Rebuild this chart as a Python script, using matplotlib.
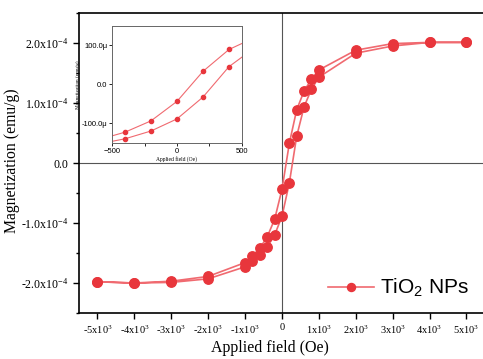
import matplotlib
matplotlib.use('Agg')
import matplotlib.pyplot as plt
from matplotlib.ticker import FixedLocator, FixedFormatter, MultipleLocator

plt.rcParams['font.family'] = 'Liberation Serif'
plt.rcParams['mathtext.fontset'] = 'custom'
plt.rcParams['mathtext.rm'] = 'Liberation Serif'
plt.rcParams['mathtext.sf'] = 'Liberation Sans'
plt.rcParams['mathtext.default'] = 'regular'

# descending branch (upper curve), field in Oe, magnetization in emu/g
h_down = [5000, 4000, 3000, 2000, 1000, 800, 600, 400, 200, 0,
          -200, -400, -600, -800, -1000, -2000, -3000, -4000, -5000]
m_down = [2.01e-4, 2.01e-4, 1.99e-4, 1.88e-4, 1.55e-4, 1.40e-4, 1.20e-4, 0.89e-4, 0.33e-4, -0.44e-4,
          -0.94e-4, -1.23e-4, -1.42e-4, -1.55e-4, -1.66e-4, -1.89e-4, -1.97e-4, -2.00e-4, -1.98e-4]
# ascending branch (lower curve)
h_up = [-5000, -4000, -3000, -2000, -1000, -800, -600, -400, -200, 0,
        200, 400, 600, 800, 1000, 2000, 3000, 4000, 5000]
m_up = [-1.98e-4, -2.00e-4, -1.99e-4, -1.93e-4, -1.73e-4, -1.63e-4, -1.53e-4, -1.40e-4, -1.20e-4, -0.89e-4,
        -0.33e-4, 0.45e-4, 0.94e-4, 1.23e-4, 1.43e-4, 1.83e-4, 1.95e-4, 2.01e-4, 2.01e-4]

h_all = h_down + h_up
m_all = m_down + m_up

x_ticks = [-5000, -4000, -3000, -2000, -1000, 0, 1000, 2000, 3000, 4000, 5000]
x_labels = ['-5x10$^3$', '-4x10$^3$', '-3x10$^3$', '-2x10$^3$', '-1x10$^3$', '0',
            '1x10$^3$', '2x10$^3$', '3x10$^3$', '4x10$^3$', '5x10$^3$']
y_ticks = [-2e-4, -1e-4, 0, 1e-4, 2e-4]
y_labels = ['-2.0x10$^{-4}$', '-1.0x10$^{-4}$', '0.0', '1.0x10$^{-4}$', '2.0x10$^{-4}$']

inset_y_ticks = [-100, 0, 100]
inset_y_labels = ['-100.0\u03bc', '0.0', '100.0\u03bc']

marker_col = '#e8363c'
line_col = '#f06a70'

fig = plt.figure(figsize=(4.83, 3.59), dpi=100)
ax = fig.add_axes([0.1636, 0.1281, 0.8404, 0.8357])

ax.plot(h_all, m_all, color=line_col, linewidth=1.2, marker='o', markersize=6.8,
        markerfacecolor=marker_col, markeredgecolor=marker_col, label=r'TiO$_\mathsf{2}$ NPs', zorder=3)
ax.axhline(0, color='#555555', linewidth=0.8, zorder=1)
ax.axvline(0, color='#555555', linewidth=0.8, zorder=1)

ax.set_xlim(-5500, 5500)
ax.set_ylim(-2.5e-4, 2.5e-4)
ax.xaxis.set_major_locator(FixedLocator(x_ticks))
ax.xaxis.set_major_formatter(FixedFormatter(x_labels))
ax.yaxis.set_major_locator(FixedLocator(y_ticks))
ax.yaxis.set_major_formatter(FixedFormatter(y_labels))
ax.yaxis.set_minor_locator(MultipleLocator(0.5e-4))
ax.tick_params(axis='x', which='major', direction='out', length=4.5, width=1, labelsize=7.5, pad=3)
ax.tick_params(axis='y', which='major', direction='out', length=4.5, width=1, labelsize=8.6, pad=3)
ax.tick_params(axis='y', which='minor', direction='out', length=2.5, width=1)
for s in ax.spines.values():
    s.set_linewidth(1.2)
ax.set_xlabel('Applied field (Oe)', fontsize=11.5)
ax.set_ylabel('Magnetization (emu/g)', fontsize=11.3)
ax.xaxis.set_label_coords(0.47, -0.09)
ax.yaxis.set_label_coords(-0.145, 0.507)

leg = ax.legend(loc='center left', bbox_to_anchor=(0.613, 0.083), frameon=False,
                prop={'family': 'Liberation Sans', 'size': 15}, borderpad=0, borderaxespad=0,
                handlelength=2.2, handletextpad=0.3, markerscale=0.85)

# inset: zoom on the coercive region, in micro emu/g
ins = fig.add_axes([0.2319, 0.6025, 0.2691, 0.3259])
ins.plot(h_all, [m * 1e6 for m in m_all], color=line_col, linewidth=0.8, marker='o', markersize=3,
         markerfacecolor=marker_col, markeredgecolor=marker_col)
ins.set_xlim(-500, 500)
ins.set_ylim(-150, 150)
ins.set_xticks([-500, 0, 500])
ins.xaxis.set_minor_locator(MultipleLocator(250))
ins.yaxis.set_major_locator(FixedLocator(inset_y_ticks))
ins.yaxis.set_major_formatter(FixedFormatter(inset_y_labels))
ins.tick_params(which='both', direction='out', length=2, width=0.6, labelsize=5.5, pad=1.5)
for lab in ins.get_xticklabels() + ins.get_yticklabels():
    lab.set_family('Liberation Sans')
for s in ins.spines.values():
    s.set_linewidth(0.7)
    s.set_color('#666666')
ins.set_xlabel('Applied field (Oe)', fontsize=4, labelpad=1)
ins.set_ylabel('Magnetization (emu/g)', fontsize=3.8, labelpad=1)

fig.savefig('out.png', dpi=100)
